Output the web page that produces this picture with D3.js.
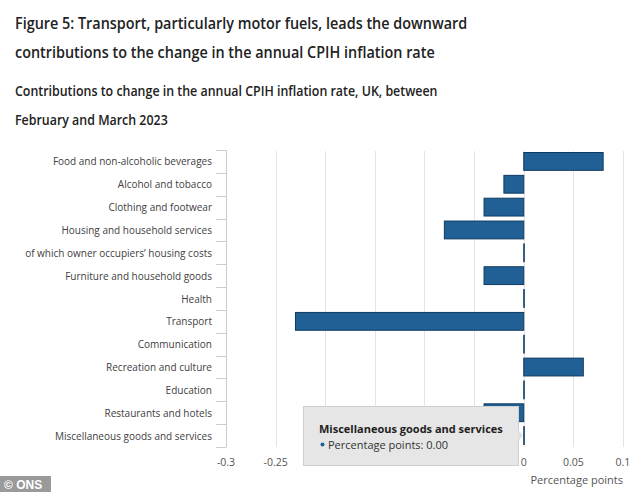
<!DOCTYPE html>
<html>
<head>
<meta charset="utf-8">
<script src="https://cdn.jsdelivr.net/npm/d3@7"></script>
<style>
  html, body { margin: 0; padding: 0; background: #fff; }
  svg { display: block; }
</style>
</head>
<body>
<svg id="chart" width="634" height="492"></svg>
<script>
const titleLines = [
  "Figure 5: Transport, particularly motor fuels, leads the downward",
  "contributions to the change in the annual CPIH inflation rate"
];
const subtitleLines = [
  "Contributions to change in the annual CPIH inflation rate, UK, between",
  "February and March 2023"
];
const categories = [
  "Food and non-alcoholic beverages",
  "Alcohol and tobacco",
  "Clothing and footwear",
  "Housing and household services",
  "of which owner occupiers\u2019 housing costs",
  "Furniture and household goods",
  "Health",
  "Transport",
  "Communication",
  "Recreation and culture",
  "Education",
  "Restaurants and hotels",
  "Miscellaneous goods and services"
];
const values = [0.08, -0.02, -0.04, -0.08, 0.00, -0.04, 0.00, -0.23, 0.00, 0.06, 0.00, -0.04, 0.00];
const xTicks = [-0.3, -0.25, -0.2, -0.15, -0.1, -0.05, 0, 0.05, 0.1];
const xTickLabels = ["-0.3", "-0.25", "", "", "", "", "0", "0.05", "0.1"];
const xAxisTitle = "Percentage points";
const tooltipIndex = 12;
const tooltipSeries = "Percentage points";

const svg = d3.select("#chart");
const font = "'Open Sans', sans-serif";

// Titles (slightly condensed to match reference proportions)
svg.append("g").selectAll("text").data(titleLines).join("text")
  .attr("transform", (d, i) => `translate(15,${29 + i * 29}) scale(0.9,1)`)
  .attr("font-family", font).attr("font-weight", 600).attr("font-size", 16)
  .attr("fill", "#222").text(d => d);
svg.append("g").selectAll("text").data(subtitleLines).join("text")
  .attr("transform", (d, i) => `translate(15,${96 + i * 29}) scale(0.9,1)`)
  .attr("font-family", font).attr("font-weight", 600).attr("font-size", 13.8)
  .attr("fill", "#222").text(d => d);

const x = d3.scaleLinear().domain([-0.3, 0.1]).range([226, 623]);
const y = d3.scaleBand().domain(categories).range([150, 447]).paddingInner(0.22).paddingOuter(0.11);
const yb = d3.scaleBand().domain(categories).range([150, 447]);

// Gridlines
svg.append("g").selectAll("line").data(xTicks.filter(t => t > -0.3)).join("line")
  .attr("x1", d => Math.round(x(d)) + 0.5).attr("x2", d => Math.round(x(d)) + 0.5)
  .attr("y1", 151).attr("y2", 447)
  .attr("stroke", "#e4e4e4").attr("stroke-width", 1);

// Y axis line + ticks
const yAxis = svg.append("g");
yAxis.append("line").attr("x1", 226.5).attr("x2", 226.5).attr("y1", 150).attr("y2", 447)
  .attr("stroke", "#cccccc");
const bounds = categories.map(c => yb(c)).concat([yb.range()[1]]);
yAxis.selectAll("line.tk").data(bounds).join("line").attr("class", "tk")
  .attr("x1", 216).attr("x2", 226.5)
  .attr("y1", d => Math.round(d) + 0.5).attr("y2", d => Math.round(d) + 0.5)
  .attr("stroke", "#cccccc");
yAxis.selectAll("text").data(categories).join("text")
  .attr("x", 212).attr("y", d => yb(d) + yb.bandwidth() / 2 + 4)
  .attr("text-anchor", "end").attr("font-family", font).attr("font-size", 10)
  .attr("fill", "#414042").text(d => d);

// Bars
svg.append("g").selectAll("rect").data(values).join("rect")
  .attr("x", d => Math.min(x(0), x(d)))
  .attr("y", (d, i) => y(categories[i]))
  .attr("width", d => Math.max(0.5, Math.abs(x(d) - x(0))))
  .attr("height", y.bandwidth())
  .attr("fill", "#206095").attr("stroke", "#0f3a61").attr("stroke-width", 1);

// X axis labels
svg.append("g").selectAll("text").data(xTicks).join("text")
  .attr("x", d => x(d)).attr("y", 466)
  .attr("text-anchor", "middle").attr("font-family", font).attr("font-size", 10.5)
  .attr("fill", "#555").text((d, i) => xTickLabels[i]);
svg.append("text").attr("x", 623).attr("y", 484).attr("text-anchor", "end")
  .attr("font-family", font).attr("font-size", 11).attr("fill", "#555").text(xAxisTitle);

// Tooltip
const tip = svg.append("g");
const ty = yb(categories[tooltipIndex]) + yb.bandwidth() / 2;
tip.append("rect").attr("x", 303.5).attr("y", 406.5).attr("width", 215).attr("height", 59)
  .attr("fill", "#e6e6e6").attr("stroke", "#cfcfcf").attr("stroke-width", 1);
tip.append("path").attr("d", `M518,${ty - 6}L523,${ty}L518,${ty + 6}Z`).attr("fill", "#e0e0e0");
tip.append("text").attr("x", 319).attr("y", 433)
  .attr("font-family", font).attr("font-weight", 700).attr("font-size", 11)
  .attr("fill", "#222").text(categories[tooltipIndex]);
tip.append("circle").attr("cx", 322.5).attr("cy", 444.5).attr("r", 2).attr("fill", "#206095");
tip.append("text").attr("x", 328).attr("y", 448.5)
  .attr("font-family", font).attr("font-size", 11)
  .attr("fill", "#333").text(tooltipSeries + ": " + values[tooltipIndex].toFixed(2));

// ONS logo
svg.append("rect").attr("x", 0).attr("y", 476).attr("width", 51).attr("height", 16).attr("fill", "#9a9a9a");
svg.append("text").attr("x", 4).attr("y", 489).attr("font-family", "'Liberation Sans', Arial, sans-serif")
  .attr("font-weight", 700).attr("font-size", 12).attr("fill", "#fff").text("\u00a9 ONS");
</script>
</body>
</html>
